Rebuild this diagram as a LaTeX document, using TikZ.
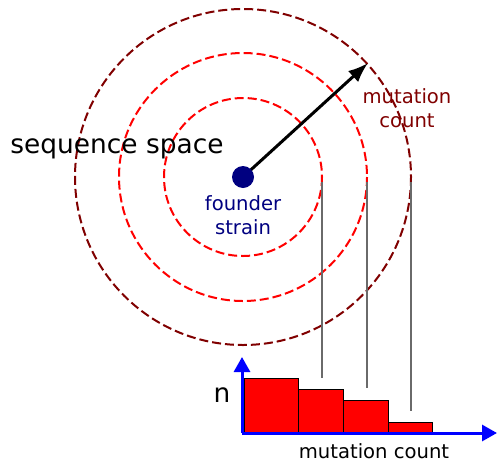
\documentclass[tikz,border=0pt]{standalone}
\usepackage{fontspec}
\setmainfont{DejaVu Sans}
\usetikzlibrary{arrows.meta,positioning,calc}
\definecolor{maroon}{HTML}{800000}
\definecolor{navy}{HTML}{000080}
\definecolor{dropgray}{HTML}{6A6A6A}
\tikzset{ring/.style={dash pattern=on 4.5pt off 2pt,line width=1pt},
 lbl/.style={font=\fontsize{9.8}{12}\selectfont,align=center,inner sep=0pt},
 big/.style={font=\fontsize{13.2}{15}\selectfont,inner sep=0pt},
 bar/.style={draw=black,fill=red,line width=0.5pt},
 axis/.style={-{Triangle[length=7.5pt,width=8pt]},draw=blue,line width=1.5pt},
 drop/.style={draw=dropgray,line width=1pt}}
\begin{document}
\begin{tikzpicture}[x=0.5pt,y=-0.5pt]
\useasboundingbox (0,0) rectangle (497,461);
\coordinate (centre) at (243,177);
\foreach \r/\c in {79/red,124/red,168/maroon}{\draw[ring,draw=\c] (centre) circle[radius=\r];}
% drop lines from the rings to the histogram
\foreach \r/\e [count=\i] in {79/378,124/388,168/411}
 {\path (centre) ++({asin(5/\r)}:\r) coordinate (top\i);
  \draw[drop] (top\i) -- (top\i |- 0,\e);}
\coordinate (tip) at (368,63);
\draw[-{Latex[length=10pt,width=7.5pt]},line width=1.5pt] (centre) -- (tip);
\node[circle,fill=navy,minimum size=11pt,inner sep=0pt] (founder) at (centre) {};
\node[lbl,text=navy] (strain) at (243,215) {founder\\strain};
\node[lbl,text=maroon] (mutlbl) at (407,108) {mutation\\count};
\node[big] (space) at (117,149) {sequence space};
% histogram
\foreach \a/\b/\t in {244/298/378,298/343/389,343/388/400,388/432/422}
 {\draw[bar] (\a,432) rectangle (\b,\t);}
\coordinate (origin) at (242,433);
\coordinate (ytip) at (242,357);
\coordinate (xtip) at (497,433);
\draw[axis] (origin) -- (ytip);
\draw[axis] (origin) -- (xtip);
\node[big] (nlbl) at (222,395.5) {n};
\node[lbl] (xlbl) at (374,451) {mutation count};
\end{tikzpicture}
\end{document}
